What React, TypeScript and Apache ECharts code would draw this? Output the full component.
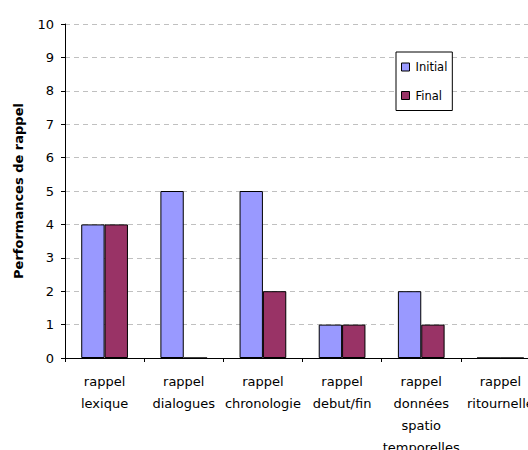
import React, { useEffect, useRef } from "react";
import * as echarts from "echarts";

const categories = [
  "rappel\nlexique",
  "rappel\ndialogues",
  "rappel\nchronologie",
  "rappel\ndebut/fin",
  "rappel\ndonnées\nspatio\ntemporelles",
  "rappel\nritournelle",
];
const initialValues = [4, 5, 5, 1, 2, 0];
const finalValues = [4, 0, 2, 1, 1, 0];
const yTicks = { min: 0, max: 10, interval: 1 };

const FONT = "'DejaVu Sans', 'Liberation Sans', Arial, sans-serif";

export default function App() {
  const ref = useRef<HTMLDivElement>(null);
  useEffect(() => {
    if (!ref.current) return;
    const chart = echarts.init(ref.current, undefined, { renderer: "svg" });
    chart.setOption({
      animation: false,
      backgroundColor: "#fff",
      textStyle: { fontFamily: FONT },
      grid: { left: 65, right: -12, top: 24, bottom: 92, outerBoundsMode: "none", containLabel: false },
      legend: {
        orient: "vertical",
        left: 396,
        top: 52,
        padding: [9, 5, 9, 5],
        itemGap: 16.5,
        itemWidth: 8,
        itemHeight: 8,
        itemStyle: { borderColor: "#000", borderWidth: 1 },
        backgroundColor: "#fff",
        borderColor: "#000",
        borderWidth: 1,
        icon: "rect",
        textStyle: { fontFamily: FONT, fontSize: 11.5, color: "#000", padding: [0, 0, 0, 1] },
        data: ["Initial", "Final"],
      },
      xAxis: {
        type: "category",
        data: categories,
        boundaryGap: true,
        axisLine: { lineStyle: { color: "#000", width: 1 } },
        axisTick: { show: true, length: 4, alignWithLabel: false, lineStyle: { color: "#000" } },
        axisLabel: {
          interval: 0,
          margin: 12,
          color: "#000",
          fontSize: 13,
          fontFamily: FONT,
          lineHeight: 22,
        },
        splitLine: { show: false },
      },
      yAxis: {
        type: "value",
        min: yTicks.min,
        max: yTicks.max,
        interval: yTicks.interval,
        name: "Performances de rappel",
        nameLocation: "middle",
        nameGap: 40,
        nameTextStyle: { fontFamily: FONT, fontSize: 13, fontWeight: "bold", color: "#000" },
        axisLine: { show: true, lineStyle: { color: "#000", width: 1 } },
        axisTick: { show: true, length: 4, lineStyle: { color: "#000" } },
        axisLabel: { margin: 11, color: "#000", fontSize: 13, fontFamily: FONT },
        splitLine: { show: true, lineStyle: { color: "#c0c0c0", type: [5, 4], width: 1 } },
      },
      series: [
        {
          name: "Initial",
          type: "bar",
          data: initialValues,
          barGap: "0%",
          barCategoryGap: "41%",
          itemStyle: { color: "#9999FF", borderColor: "#000", borderWidth: 1 },
        },
        {
          name: "Final",
          type: "bar",
          data: finalValues,
          barGap: "0%",
          barCategoryGap: "41%",
          itemStyle: { color: "#993366", borderColor: "#000", borderWidth: 1 },
        },
      ],
    });
    return () => chart.dispose();
  }, []);
  return (
    <div
      ref={ref}
      style={{ position: "fixed", left: 0, top: 0, width: 528, height: 450, background: "#fff" }}
    />
  );
}
